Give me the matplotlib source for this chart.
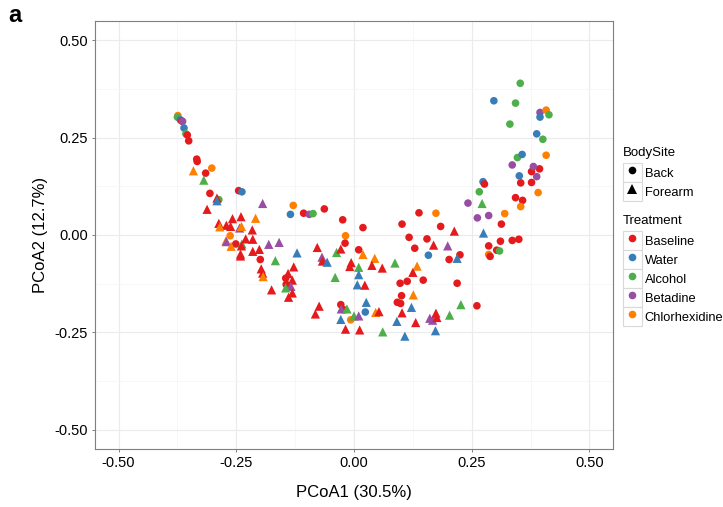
import numpy as np
import matplotlib
matplotlib.use("Agg")
import matplotlib.pyplot as plt
from matplotlib.lines import Line2D
from matplotlib.patches import Rectangle
from matplotlib.ticker import MultipleLocator

plt.rcParams['font.family'] = ['Liberation Sans', 'DejaVu Sans']
plt.rcParams['axes.unicode_minus'] = False

# ========== DATA ========== #
treatments = ["Baseline", "Water", "Alcohol", "Betadine", "Chlorhexidine"]
trt_colors = ["#E41A1C", "#377EB8", "#4DAF4A", "#984EA3", "#FF7F00"]
sites = ["Back", "Forearm"]

# Back (circles)
back_x = [-0.374, -0.375, -0.369, -0.366, -0.364, -0.361, -0.357, -0.354, -0.351, -0.334,
          -0.333, -0.302, -0.315, -0.306, -0.245, -0.238, -0.287, -0.129, -0.135, -0.107,
          -0.095, -0.087, -0.063, -0.024, 0.019, -0.018, -0.019, 0.010, -0.263, -0.251,
          -0.199, -0.145, -0.144, -0.028, -0.022, -0.007, 0.024, 0.102, 0.138, 0.174,
          0.117, 0.155, 0.184, 0.129, 0.158, 0.202, 0.225, 0.098, 0.113, 0.147,
          0.219, 0.101, 0.092, 0.099, 0.261, 0.242, 0.262, 0.286, 0.320, 0.313,
          0.266, 0.274, 0.277, 0.343, 0.358, 0.354, 0.391, 0.354, 0.377, 0.351,
          0.388, 0.377, 0.394, 0.381, 0.336, 0.347, 0.357, 0.408, 0.388, 0.401,
          0.331, 0.395, 0.408, 0.414, 0.395, 0.297, 0.343, 0.353, 0.286, 0.286,
          0.289, 0.303, 0.309, 0.311, 0.336, 0.350]
back_y = [0.307, 0.303, 0.296, 0.293, 0.292, 0.275, 0.260, 0.257, 0.242, 0.195,
          0.189, 0.172, 0.159, 0.107, 0.114, 0.111, 0.091, 0.076, 0.053, 0.056,
          0.053, 0.055, 0.067, 0.039, 0.019, -0.002, -0.021, -0.038, -0.002, -0.023,
          -0.063, -0.111, -0.127, -0.179, -0.192, -0.218, -0.198, 0.028, 0.057, 0.056,
          -0.006, -0.010, 0.022, -0.034, -0.052, -0.063, -0.051, -0.124, -0.119, -0.116,
          -0.124, -0.156, -0.173, -0.176, -0.182, 0.082, 0.044, 0.050, 0.055, 0.028,
          0.111, 0.137, 0.131, 0.096, 0.089, 0.073, 0.109, 0.134, 0.135, 0.152,
          0.150, 0.163, 0.170, 0.176, 0.180, 0.199, 0.207, 0.205, 0.260, 0.246,
          0.285, 0.315, 0.321, 0.309, 0.303, 0.345, 0.339, 0.390, -0.028, -0.050,
          -0.055, -0.039, -0.041, -0.016, -0.014, -0.011]
back_trt = ["Chlorhexidine", "Alcohol", "Water", "Baseline", "Betadine", "Water", "Alcohol", "Baseline", "Baseline", "Baseline",
            "Baseline", "Chlorhexidine", "Baseline", "Baseline", "Baseline", "Water", "Alcohol", "Chlorhexidine", "Water", "Baseline",
            "Betadine", "Alcohol", "Baseline", "Baseline", "Baseline", "Chlorhexidine", "Baseline", "Baseline", "Chlorhexidine", "Baseline",
            "Baseline", "Baseline", "Baseline", "Baseline", "Baseline", "Chlorhexidine", "Water", "Baseline", "Baseline", "Chlorhexidine",
            "Baseline", "Baseline", "Baseline", "Baseline", "Water", "Baseline", "Baseline", "Baseline", "Baseline", "Baseline",
            "Baseline", "Baseline", "Baseline", "Baseline", "Baseline", "Betadine", "Betadine", "Betadine", "Chlorhexidine", "Baseline",
            "Alcohol", "Water", "Baseline", "Baseline", "Baseline", "Chlorhexidine", "Chlorhexidine", "Baseline", "Baseline", "Water",
            "Betadine", "Baseline", "Baseline", "Betadine", "Betadine", "Alcohol", "Water", "Chlorhexidine", "Water", "Alcohol",
            "Alcohol", "Betadine", "Chlorhexidine", "Alcohol", "Water", "Water", "Alcohol", "Alcohol", "Baseline", "Chlorhexidine",
            "Baseline", "Baseline", "Alcohol", "Baseline", "Baseline", "Baseline"]

# Forearm (triangles)
forearm_x = [-0.341, -0.319, -0.291, -0.291, -0.312, -0.194, -0.209, -0.240, -0.287, -0.271,
             -0.258, -0.262, -0.285, -0.243, -0.239, -0.216, -0.272, -0.271, -0.261, -0.238,
             -0.239, -0.230, -0.215, -0.241, -0.241, -0.215, -0.201, -0.181, -0.159, -0.167,
             -0.121, -0.128, -0.197, -0.194, -0.193, -0.140, -0.131, -0.134, -0.145, -0.175,
             -0.131, -0.139, -0.078, -0.037, -0.028, -0.068, -0.067, -0.057, 0.019, 0.044,
             -0.006, -0.009, 0.010, 0.038, 0.060, 0.087, 0.010, -0.040, 0.007, 0.023,
             -0.074, -0.082, -0.027, -0.015, -0.028, 0.000, 0.010, 0.026, 0.046, 0.053,
             -0.018, 0.012, 0.061, 0.108, 0.134, 0.125, 0.126, 0.122, 0.102, 0.091,
             0.131, 0.161, 0.167, 0.174, 0.176, 0.203, 0.173, 0.227, 0.213, 0.169,
             0.199, 0.219, 0.275, 0.272]
forearm_y = [0.165, 0.141, 0.095, 0.088, 0.066, 0.081, 0.043, 0.047, 0.030, 0.025,
             0.042, 0.022, 0.021, 0.018, 0.022, 0.013, -0.015, -0.017, -0.029, -0.023,
             -0.028, -0.010, -0.011, -0.049, -0.054, -0.042, -0.037, -0.024, -0.019, -0.066,
             -0.046, -0.082, -0.087, -0.098, -0.107, -0.099, -0.116, -0.132, -0.136, -0.141,
             -0.149, -0.160, -0.032, -0.045, -0.036, -0.057, -0.067, -0.070, -0.050, -0.060,
             -0.071, -0.081, -0.083, -0.078, -0.085, -0.072, -0.102, -0.109, -0.128, -0.129,
             -0.183, -0.203, -0.190, -0.190, -0.217, -0.208, -0.208, -0.173, -0.199, -0.197,
             -0.242, -0.244, -0.249, -0.260, -0.080, -0.096, -0.154, -0.186, -0.200, -0.222,
             -0.225, -0.214, -0.219, -0.201, -0.212, -0.206, -0.246, -0.179, 0.010, -0.026,
             -0.028, -0.060, 0.005, 0.081]
forearm_trt = ["Chlorhexidine", "Alcohol", "Baseline", "Water", "Baseline", "Betadine", "Chlorhexidine", "Baseline", "Baseline", "Baseline",
               "Baseline", "Baseline", "Chlorhexidine", "Betadine", "Chlorhexidine", "Baseline", "Chlorhexidine", "Betadine", "Chlorhexidine", "Alcohol",
               "Baseline", "Baseline", "Baseline", "Baseline", "Baseline", "Baseline", "Baseline", "Betadine", "Betadine", "Alcohol",
               "Water", "Baseline", "Baseline", "Baseline", "Chlorhexidine", "Baseline", "Baseline", "Betadine", "Alcohol", "Baseline",
               "Baseline", "Baseline", "Baseline", "Alcohol", "Baseline", "Betadine", "Baseline", "Water", "Chlorhexidine", "Chlorhexidine",
               "Baseline", "Baseline", "Alcohol", "Baseline", "Baseline", "Alcohol", "Water", "Alcohol", "Water", "Baseline",
               "Baseline", "Baseline", "Betadine", "Alcohol", "Water", "Alcohol", "Betadine", "Water", "Chlorhexidine", "Baseline",
               "Baseline", "Baseline", "Alcohol", "Water", "Chlorhexidine", "Baseline", "Chlorhexidine", "Water", "Baseline", "Water",
               "Baseline", "Betadine", "Betadine", "Baseline", "Baseline", "Alcohol", "Water", "Alcohol", "Baseline", "Baseline",
               "Betadine", "Water", "Water", "Alcohol"]

# ========== PLOT ========== #
color_of = dict(zip(treatments, trt_colors))

fig = plt.figure(figsize=(7.23, 5.07), dpi=100)
ax = fig.add_axes([95 / 723, 1 - 449 / 507, 518 / 723, 428 / 507])

ax.scatter(back_x, back_y, c=[color_of[t] for t in back_trt], marker='o',
           s=30, linewidths=0, zorder=3)
ax.scatter(forearm_x, forearm_y, c=[color_of[t] for t in forearm_trt], marker='^',
           s=44, linewidths=0, zorder=3)

ax.set_xlim(-0.55, 0.55)
ax.set_ylim(-0.55, 0.55)
ticks = [-0.5, -0.25, 0.0, 0.25, 0.5]
ax.set_xticks(ticks)
ax.set_yticks(ticks)
ax.set_xticklabels([f"{t:.2f}" for t in ticks])
ax.set_yticklabels([f"{t:.2f}" for t in ticks])
ax.xaxis.set_minor_locator(MultipleLocator(0.125))
ax.yaxis.set_minor_locator(MultipleLocator(0.125))
ax.grid(True, which='major', color='#EBEBEB', lw=0.8, zorder=0)
ax.grid(True, which='minor', color='#F4F4F4', lw=0.5, zorder=0)
ax.set_axisbelow(True)
ax.tick_params(which='major', length=2.5, width=0.7, color='#7F7F7F',
               labelsize=10.5, labelcolor='black', pad=2.5)
ax.tick_params(which='minor', length=0)
for sp in ax.spines.values():
    sp.set_color('#7F7F7F')
    sp.set_linewidth(0.8)

ax.set_xlabel("PCoA1 (30.5%)", fontsize=12, labelpad=11)
ax.set_ylabel("PCoA2 (12.7%)", fontsize=12, labelpad=5)

fig.text(0.012, 0.992, "a", fontsize=17, fontweight='bold', va='top', ha='left')

# ========== LEGENDS ========== #
def key_box():
    return Rectangle((0, 0), 1, 1, facecolor='white', edgecolor='#D9D9D9', lw=0.8)

site_handles = [
    (key_box(), Line2D([], [], ls='', marker=m, color='black', markersize=ms, markeredgewidth=0))
    for m, ms in [('o', 5.5), ('^', 6.5)]
]
trt_handles = [
    (key_box(), Line2D([], [], ls='', marker='o', color=c, markersize=5.5, markeredgewidth=0))
    for c in trt_colors
]

leg_kw = dict(loc='upper left', frameon=False, fontsize=9.3, title_fontsize=9.5,
              handlelength=1.47, handleheight=1.886, labelspacing=0.0, handletextpad=0.2,
              borderpad=0, borderaxespad=0, alignment='left')
leg1 = fig.legend(site_handles, sites, title="BodySite",
                  bbox_to_anchor=(623 / 723, 1 - 147 / 507), **leg_kw)
leg2 = fig.legend(trt_handles, treatments, title="Treatment",
                  bbox_to_anchor=(623 / 723, 1 - 215 / 507), **leg_kw)
for leg in (leg1, leg2):
    leg._legend_box.sep = 3  # small gap between title and keys

plt.savefig("out.png", dpi=100)
